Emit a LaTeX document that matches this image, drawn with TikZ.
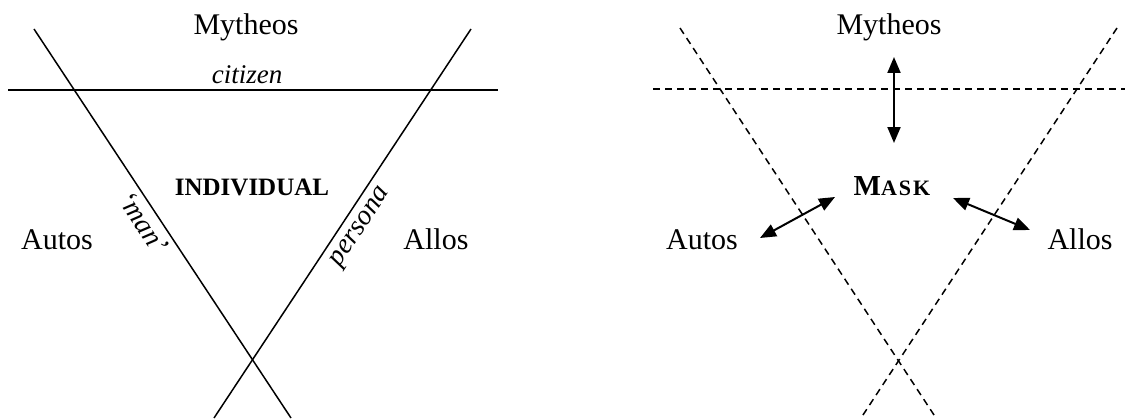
\documentclass[tikz,border=0pt]{standalone}
\usepackage{fontspec}
\setmainfont{Liberation Serif}
\usetikzlibrary{arrows.meta}
\begin{document}
\begin{tikzpicture}[x=1pt,y=-1pt,
  solidline/.style={line width=1.5pt},
  dashline/.style={line width=1.5pt, dash pattern=on 7pt off 5pt},
  dbl/.style={line width=2pt, {Triangle[length=16pt,width=13pt]}-{Triangle[length=16pt,width=13pt]}},
  big/.style={font=\fontsize{30}{36}\selectfont, inner sep=0pt, anchor=base},
  ital/.style={font=\fontsize{28}{33}\selectfont\itshape, inner sep=0pt},
  bold/.style={font=\fontsize{25}{30}\selectfont\bfseries, inner sep=0pt, anchor=base}]
\useasboundingbox (0,0) rectangle (1130,420);
% ---------- left diagram ----------
\coordinate (LA) at (34,29);
\coordinate (LB) at (291,418);
\coordinate (RA) at (471,29);
\coordinate (RB) at (214,418);
\coordinate (HA) at (8,90);
\coordinate (HB) at (498,90);
\draw[solidline] (LA) -- node[ital, pos=0.476, sloped, below=5pt] (man) {`man'} (LB);
\draw[solidline] (RB) -- node[ital, pos=0.515, sloped, below=8pt] (pers) {persona} (RA);
\draw[solidline] (HA) -- (HB);
\node[big] (myth1) at (246,35) {Mytheos};
\node[ital, font=\fontsize{27}{32}\selectfont\itshape, anchor=base] (cit) at (247,84) {citizen};
\node[bold] (indiv) at (252,195) {INDIVIDUAL};
\node[big] (autos1) at (57,249) {Autos};
\node[big] (allos1) at (436,249) {Allos};
% ---------- right diagram ----------
\coordinate (L2A) at (680,28);
\coordinate (L2B) at (936,418);
\coordinate (R2A) at (1117,28);
\coordinate (R2B) at (861,418);
\coordinate (H2A) at (653,89);
\coordinate (H2B) at (1125,89);
\draw[dashline] (L2A) -- (L2B);
\draw[dashline] (R2A) -- (R2B);
\draw[dashline] (H2A) -- (H2B);
\node[big] (myth2) at (889,35) {Mytheos};
\node[inner sep=0pt, anchor=base] (mask) at (892,195)
  {\fontsize{29}{34}\selectfont\bfseries M\fontsize{22}{26}\selectfont A\kern2pt S\kern2pt K};
\node[big] (autos2) at (702,249) {Autos};
\node[big] (allos2) at (1080,249) {Allos};
\coordinate (v1) at (894,57);
\coordinate (v2) at (894,143);
\coordinate (a1) at (760,238);
\coordinate (a2) at (835,197);
\coordinate (b1) at (953,198);
\coordinate (b2) at (1030,230);
\draw[dbl] (v1) -- (v2);
\draw[dbl] (a1) -- (a2);
\draw[dbl] (b1) -- (b2);
\end{tikzpicture}
\end{document}
